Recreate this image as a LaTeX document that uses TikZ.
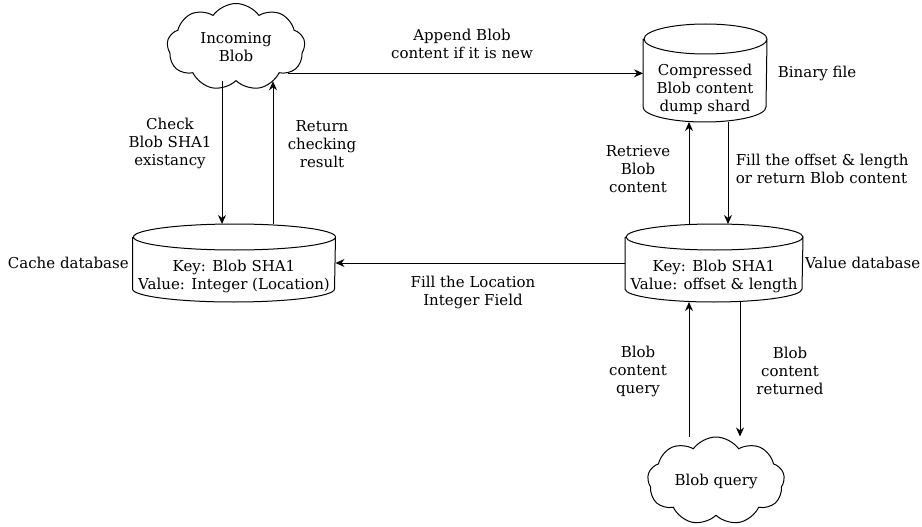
\documentclass[tikz,border=0pt]{standalone}
\usepackage{fontspec}
\setmainfont{DejaVu Serif}
\usetikzlibrary{shapes.symbols,arrows.meta,positioning}

% outline of a store: #1 node, #2 x radius, #3 y radius
\newcommand{\dbcylinder}[3]{%
	\draw ([yshift=-#3]#1.north west) -- ([yshift=#3]#1.south west)
		arc[start angle=180, end angle=360, x radius=#2, y radius=#3]
		-- ([yshift=-#3]#1.north east)
		arc[start angle=0, end angle=180, x radius=#2, y radius=#3]
		arc[start angle=180, end angle=360, x radius=#2, y radius=#3];}

\begin{document}
\begin{tikzpicture}[x=1pt,y=-1pt,
		font=\fontsize{15}{18}\selectfont,
		line width=1pt,
		db/.style={inner sep=0pt},
		dbtext/.style={align=center, yshift=#1},
		blob/.style={cloud, cloud puffs=9, cloud puff arc=110, cloud ignores aspect, draw, align=center, inner sep=1pt},
		flow/.style={-{Stealth[length=9pt,width=8pt]}},
		note/.style={align=center}]
		\useasboundingbox (0,0) rectangle (922,527);
		% stores and sources
		\node [blob, minimum width=138, minimum height=87] (inblob) at (236,47) {Incoming\\Blob};
		\node [db, minimum width=123, minimum height=97,
			label={[dbtext=-16pt]center:{Compressed\\Blob content\\dump shard}}] (zip) at (705,73) {};
		\node [db, minimum width=202, minimum height=77,
			label={[dbtext=-13pt]center:{Key: Blob SHA1\\Value: Integer (Location)}}] (cache) at (234,263) {};
		\node [db, minimum width=177, minimum height=77,
			label={[dbtext=-13pt]center:{Key: Blob SHA1\\Value: offset \& length}}] (valdb) at (714,263) {};
		\node [blob, minimum width=137, minimum height=88] (qblob) at (716,481) {Blob query};
		\dbcylinder{zip}{61.5pt}{15pt}
		\dbcylinder{cache}{101pt}{13pt}
		\dbcylinder{valdb}{88.5pt}{13pt}
		%
		\node [left=0pt of cache.west] (lcache) {Cache database};
		\node [right=1pt of valdb.east, inner sep=0.5pt] (lvaldb) {Value database};
		\node [right=7pt of zip.east] (lzip) {Binary file};
		% connectors
		\draw [flow] (inblob.-27) -- (inblob.-27 -| zip.west);
		\draw [flow] ([xshift=-14pt]inblob.south) -- ([xshift=-14pt]inblob.south |- cache.north);
		\draw [flow] ([xshift=37pt]inblob.south |- cache.north) -- ([xshift=37pt]inblob.south);
		\draw [flow] (valdb.west) -- (cache.east);
		\draw [flow] ([xshift=-25pt]valdb.north) -- ([xshift=-25pt]valdb.north |- zip.south);
		\draw [flow] ([xshift=14pt]valdb.north |- zip.south) -- ([xshift=14pt]valdb.north);
		\draw [flow] ([xshift=-25pt]valdb.south |- qblob.north) -- ([xshift=-25pt]valdb.south);
		\draw [flow] ([xshift=26pt]valdb.south) -- ([xshift=26pt]valdb.south |- qblob.north);
		% labels
		\node [note] (lappend) at (462,44) {Append Blob\\content if it is new};
		\node [note] (lcheck) at (170,143) {Check\\Blob SHA1\\existancy};
		\node [note] (lreturn) at (322,144) {Return\\checking\\result};
		\node [note] (lfill) at (473,292) {Fill the Location\\Integer Field};
		\node [note] (lretrieve) at (638,169) {Retrieve\\Blob\\content};
		\node [align=left, anchor=west] (loffset) at (732,169) {Fill the offset \& length\\or return Blob content};
		\node [note] (lquery) at (638,371) {Blob\\content\\query};
		\node [note] (lreturned) at (790,371) {Blob\\content\\returned};
	\end{tikzpicture}
\end{document}
